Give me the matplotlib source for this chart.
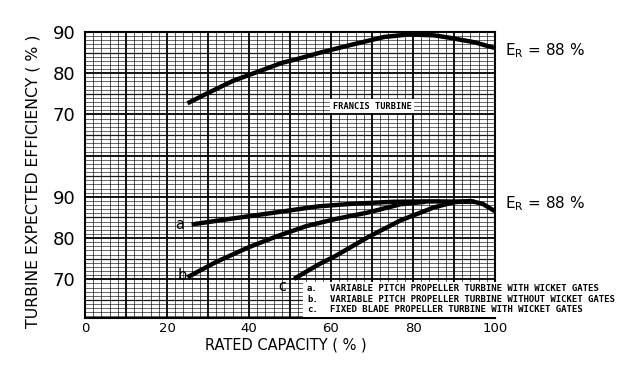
import numpy as np
import matplotlib.pyplot as plt
from matplotlib.patches import Rectangle

# efficiency curves (x = rated capacity %, y = efficiency %)
francis_x = [25, 30, 36, 42, 48, 52, 57, 65, 73, 79, 85, 89, 95, 100]
francis_eff = [72.7, 75.2, 78.1, 80.3, 82.5, 83.5, 84.9, 86.9, 88.8, 89.4, 89.2, 88.6, 87.5, 86.1]

a_x = [26, 35, 45, 52, 57, 65, 75, 85, 95]
a_eff = [83.3, 84.6, 86.0, 87.0, 87.7, 88.3, 88.8, 88.9, 88.8]

b_x = [25, 32, 40, 47, 54, 61, 69, 77, 83]
b_eff = [70.5, 74.2, 77.8, 80.5, 82.9, 84.6, 86.2, 88.2, 88.8]

c_x = [51, 57, 61, 69, 77, 85, 90, 94, 97, 100]
c_eff = [70.1, 73.6, 75.6, 80.2, 84.3, 87.4, 88.7, 89.0, 88.3, 86.5]

x_ticks = [0, 20, 40, 60, 80, 100]
eff_ticks = [70, 80, 90]
legend_lines = ['VARIABLE PITCH PROPELLER TURBINE WITH WICKET GATES',
                'VARIABLE PITCH PROPELLER TURBINE WITHOUT WICKET GATES',
                'FIXED BLADE PROPELLER TURBINE WITH WICKET GATES']
legend_keys = ['a.', 'b.', 'c.']

# upper (Francis) panel is drawn shifted up on the same graph paper
OFFSET = 40

W, H = 624, 367
fig = plt.figure(figsize=(W / 100, H / 100), dpi=100)
ax = fig.add_axes([85 / W, 1 - 318 / H, 410 / W, 286 / H])

ax.set_xlim(0, 100)
ax.set_ylim(60.6, 90 + OFFSET)

# graph paper
for v in np.arange(0, 101, 2):
    if v % 10 == 0:
        ax.axvline(v, color='black', lw=1.3, zorder=1)
    else:
        ax.axvline(v, color='black', lw=0.6, alpha=0.75, zorder=1)
for h in np.arange(61, 131, 1):
    if h % 10 == 0:
        ax.axhline(h, color='black', lw=1.3, zorder=1)
    elif h % 5 == 0:
        ax.axhline(h, color='black', lw=0.9, alpha=0.9, zorder=1)
    else:
        ax.axhline(h, color='black', lw=0.6, alpha=0.7, zorder=1)

kw = dict(color='black', lw=3.2, solid_capstyle='butt', solid_joinstyle='round', zorder=3)
ax.plot(francis_x, np.array(francis_eff) + OFFSET, **kw)
ax.plot(a_x, a_eff, **kw)
ax.plot(b_x, b_eff, **kw)
ax.plot(c_x, c_eff, **kw)

ax.text(23.2, 83.4, 'a', fontsize=10.5, ha='center', va='center', zorder=4)
ax.text(23.6, 70.8, 'b', fontsize=10.5, ha='center', va='center', zorder=4)
ax.text(48.2, 68.3, 'c', fontsize=10.5, ha='center', va='center', zorder=4)

ax.text(70, 72 + OFFSET, 'FRANCIS TURBINE', family='DejaVu Sans Mono', fontsize=6.2,
        weight='bold', ha='center', va='center', zorder=4,
        bbox=dict(facecolor='white', edgecolor='none', pad=2))

ax.set_xticks(x_ticks)
ax.set_xticklabels([str(t) for t in x_ticks], fontsize=9.5)
ax.set_yticks(eff_ticks + [t + OFFSET for t in eff_ticks])
ax.set_yticklabels([str(t) for t in eff_ticks] * 2, fontsize=13)
ax.tick_params(length=0)
ax.tick_params(axis='y', pad=7)
ax.tick_params(axis='x', pad=3)
for s in ax.spines.values():
    s.set_linewidth(1.5)

fig.text(286 / W, 1 - 345 / H, 'RATED CAPACITY ( % )', fontsize=10.5,
         ha='center', va='center')
fig.text(33 / W, 1 - 181 / H, 'TURBINE EXPECTED EFFICIENCY ( % )', fontsize=11.3,
         rotation=90, ha='center', va='center')

fig.text(505 / W, 1 - 51 / H, r'E$_\mathregular{R}$ = 88 %', fontsize=11,
         ha='left', va='center')
fig.text(505 / W, 1 - 204 / H, r'E$_\mathregular{R}$ = 88 %', fontsize=11,
         ha='left', va='center')

# key box, partly over the graph
fig.add_artist(Rectangle((303 / W, 1 - 317 / H), 320 / W, 35 / H,
                         transform=fig.transFigure, facecolor='white',
                         edgecolor='none', zorder=5))
for i, (k, t) in enumerate(zip(legend_keys, legend_lines)):
    yy = 1 - (288.5 + 10.5 * i) / H
    fig.text(307 / W, yy, k, family='DejaVu Sans Mono', fontsize=6.5,
             weight='bold', va='center', zorder=6)
    fig.text(330 / W, yy, t, family='DejaVu Sans Mono', fontsize=6.5,
             weight='bold', va='center', zorder=6)

fig.savefig('out.png', dpi=100)
